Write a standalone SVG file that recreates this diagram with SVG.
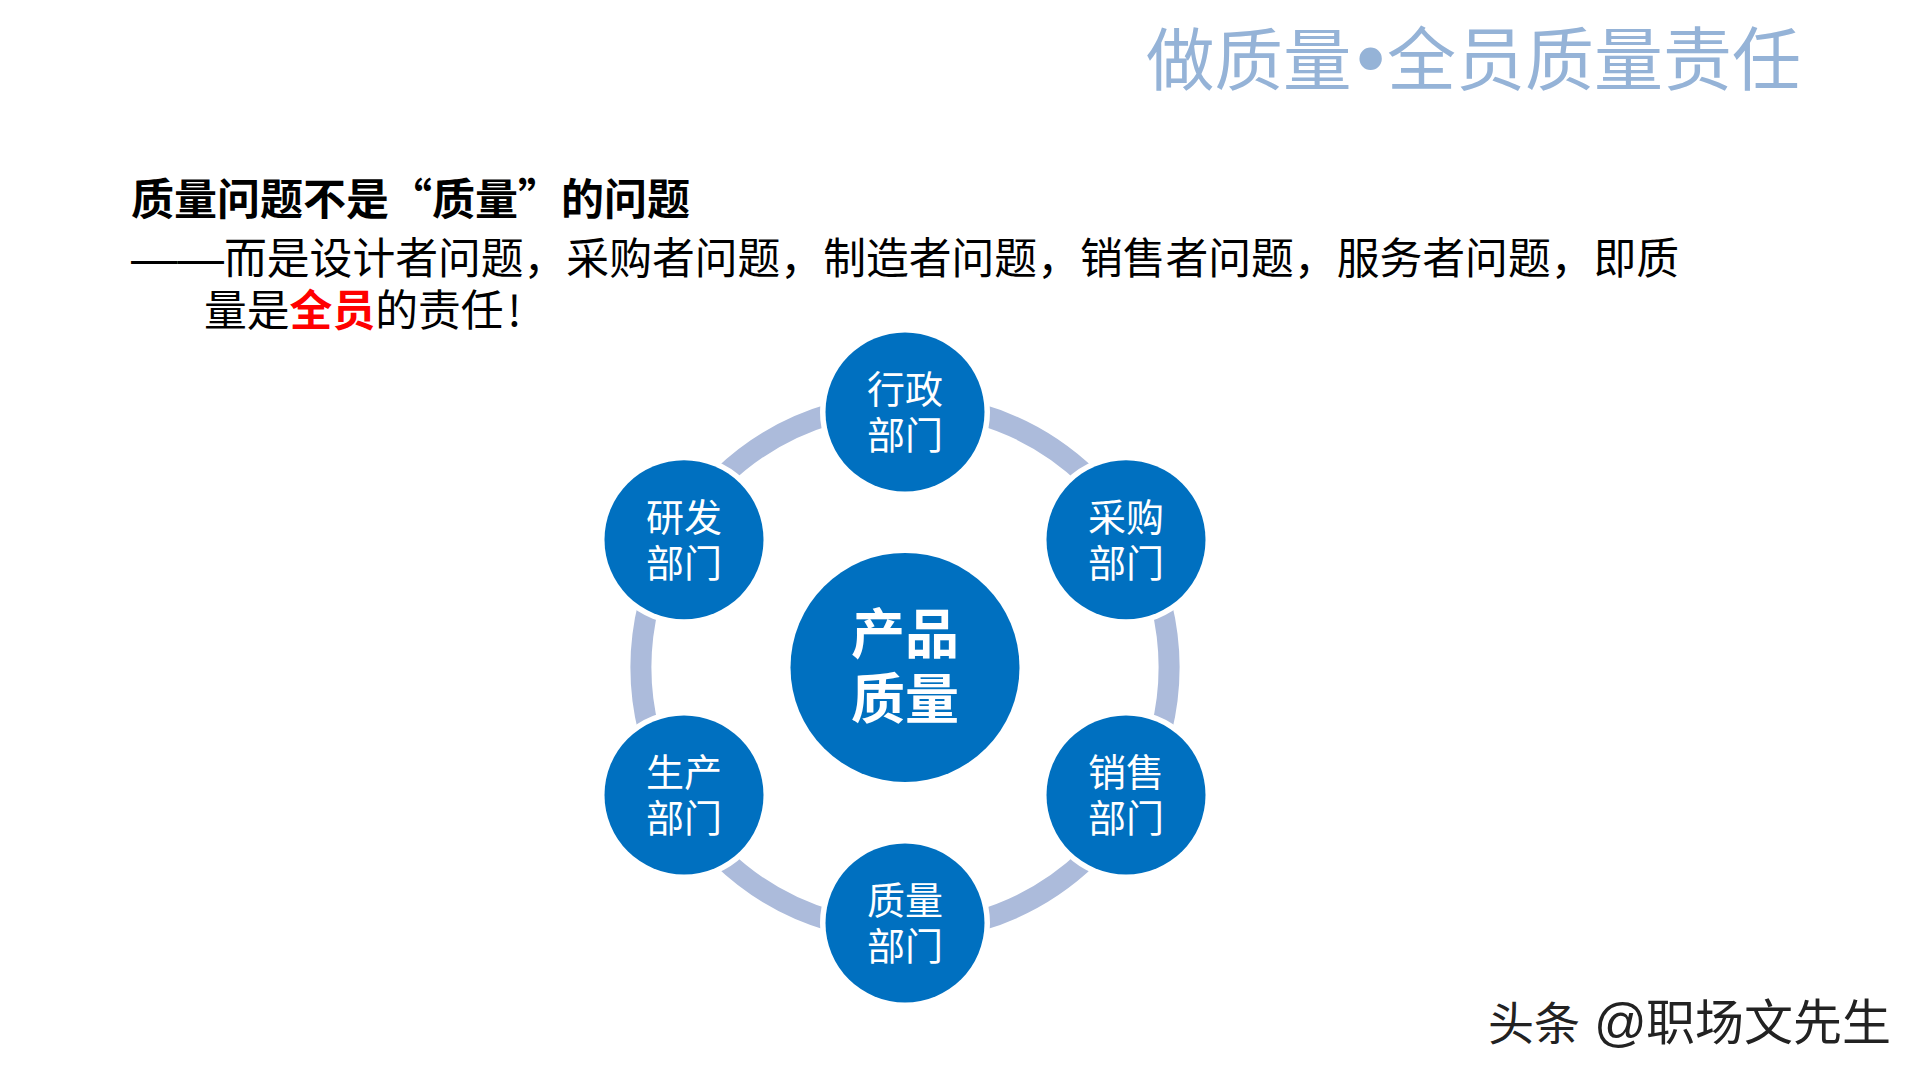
<svg xmlns="http://www.w3.org/2000/svg" width="1920" height="1080" viewBox="0 0 1920 1080">
<style>
text{font-family:"Noto Sans CJK SC","Liberation Sans",sans-serif}
.arc{fill:none;stroke:#ACBBDB;stroke-width:21}
.sat{fill:#0070C0;stroke:#fff;stroke-width:11;paint-order:stroke}
.hub{fill:#0070C0}
.lab{font-size:38px;fill:#fff;text-anchor:middle}
.hubt{font-size:54px;font-weight:700;fill:#fff;text-anchor:middle}
.body{font-size:42.8px;fill:#000}
.latin{font-family:"Liberation Sans",sans-serif}
</style>
<rect width="1920" height="1080" fill="#fff"/>
<text id="title" x="1146" y="85" font-size="68.5" fill="#95B3D7">做质量<tspan class="latin" x="1357" y="85" font-size="78" font-weight="700">•</tspan><tspan x="1387" font-size="69">全员质量责任</tspan></text>
<text id="heading" x="131" y="215" font-size="43" fill="#000" font-weight="700">质量问题不是“质量”的问题</text>
<text id="line1" x="131" y="274" class="body"><tspan class="latin" font-size="46.5">——</tspan><tspan x="224">而是设计者问题，采购者问题，制造者问题，销售者问题，服务者问题，即质</tspan></text>
<text id="line2" x="204" y="326" class="body">量是<tspan fill="#f00" font-weight="700">全员</tspan>的责任<tspan dx="4">!</tspan></text>
<g id="connectors">
<path class="arc" d="M977.77 413.63A264 264 0 0 1 1088.39 477.49"/>
<path class="arc" d="M1161.16 603.53A264 264 0 0 1 1161.16 731.27"/>
<path class="arc" d="M1088.39 857.31A264 264 0 0 1 977.77 921.17"/>
<path class="arc" d="M832.23 921.17A264 264 0 0 1 721.61 857.31"/>
<path class="arc" d="M648.84 731.27A264 264 0 0 1 648.84 603.53"/>
<path class="arc" d="M721.61 477.49A264 264 0 0 1 832.23 413.63"/>
</g>
<g id="hub"><circle class="hub" cx="905" cy="667.4" r="114.5"/><text class="hubt" x="905" y="654">产品</text><text class="hubt" x="905" y="719">质量</text></g>
<g id="admin"><circle class="sat" cx="905" cy="412" r="79.5"/><text class="lab" x="905" y="403">行政</text><text class="lab" x="905" y="448.5">部门</text></g>
<g id="purchasing"><circle class="sat" cx="1126" cy="539.7" r="79.5"/><text class="lab" x="1126" y="531">采购</text><text class="lab" x="1126" y="576.5">部门</text></g>
<g id="sales"><circle class="sat" cx="1126" cy="795" r="79.5"/><text class="lab" x="1126" y="786">销售</text><text class="lab" x="1126" y="831.5">部门</text></g>
<g id="quality"><circle class="sat" cx="905" cy="923" r="79.5"/><text class="lab" x="905" y="914">质量</text><text class="lab" x="905" y="959.5">部门</text></g>
<g id="production"><circle class="sat" cx="684" cy="795" r="79.5"/><text class="lab" x="684" y="786">生产</text><text class="lab" x="684" y="831.5">部门</text></g>
<g id="rnd"><circle class="sat" cx="684" cy="539.7" r="79.5"/><text class="lab" x="684" y="531">研发</text><text class="lab" x="684" y="576.5">部门</text></g>
<text id="watermark" x="1488" y="1040" font-size="46" fill="#222">头条 <tspan class="latin" x="1594" font-size="52">@</tspan><tspan x="1646" font-size="49">职场文先生</tspan></text>
</svg>
